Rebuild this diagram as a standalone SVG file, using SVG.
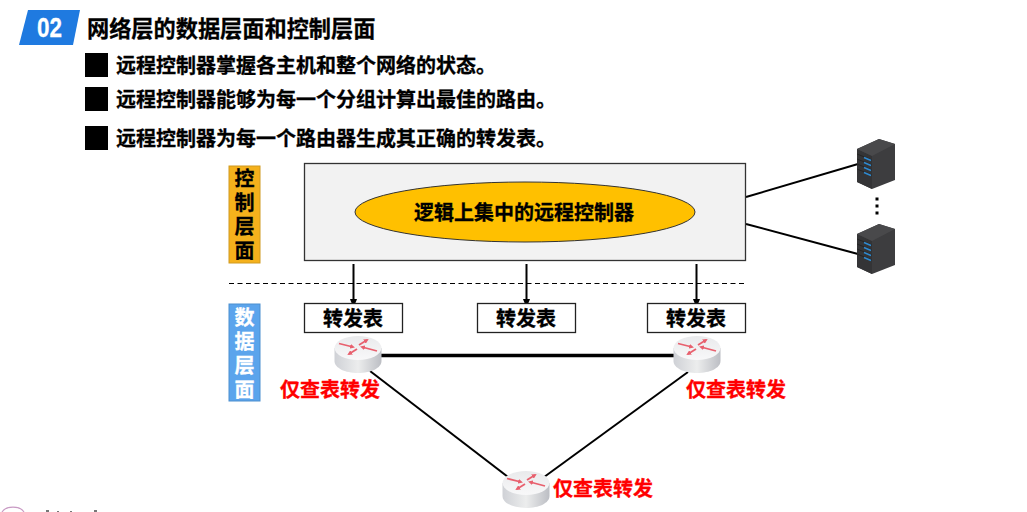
<svg xmlns="http://www.w3.org/2000/svg" width="1027" height="512" viewBox="0 0 1027 512">
<style>
text{font-family:"Noto Sans CJK SC","Liberation Sans",sans-serif;font-weight:700;fill:#000;stroke:#000;stroke-width:.3}
.t20{font-size:20px}
.title{font-size:22.2px}
.mid{text-anchor:middle}
.red{fill:#f00;stroke:#f00;font-size:20px}
.side{font-size:20px;writing-mode:vertical-rl;letter-spacing:4.300px}
.white{fill:#fff;stroke:#fff}
.box{fill:#fff;stroke:#222;stroke-width:1.3}
.bar{fill:#000}
.link{stroke:#000;fill:none}
.dot{fill:#000}
.frag{fill:#777}
</style>
<defs>
<marker id="arr" markerWidth="9" markerHeight="7" refX="8" refY="3.5" orient="auto" markerUnits="userSpaceOnUse"><path d="M0 0L9 3.5L0 7Z" fill="#000"/></marker>
<marker id="rarr" markerWidth="5" markerHeight="5" refX="3" refY="2.5" orient="auto" markerUnits="userSpaceOnUse"><path d="M0 0L5 2.5L0 5Z" fill="#e8606e"/></marker>
<linearGradient id="rside" x1="0" x2="1" y1="0" y2="0"><stop offset="0" stop-color="#cfd1d6"/><stop offset=".5" stop-color="#eceded"/><stop offset="1" stop-color="#bcbec4"/></linearGradient>
<linearGradient id="rtop" x1="0" x2="0" y1="0" y2="1"><stop offset="0" stop-color="#e9eaec"/><stop offset="1" stop-color="#f8f8f9"/></linearGradient>
<g id="router">
<path d="M-23.500 -6V7C-23.500 14 -13 19 0 19S23.500 14 23.500 7V-6Z" fill="url(#rside)"/>
<ellipse cx="0" cy="-6" rx="23.500" ry="12" fill="url(#rtop)"/>
<g stroke="#e8606e" stroke-width="1.800" fill="none">
<path marker-end="url(#rarr)" d="M-19 -10.500L-5 -7"/>
<path marker-end="url(#rarr)" d="M1 -9L9 -14"/>
<path marker-end="url(#rarr)" d="M-1 -5L-9 0"/>
<path marker-end="url(#rarr)" d="M19 -3L4 -7"/>
</g>
</g>
<g id="server">
<path d="M0 9L22 -1L38 4V40L15 49L0 42Z" fill="#3d3d3f"/>
<path d="M0 9L15 16V49L0 42Z" fill="#343436"/>
<path d="M0 9L22 -1L38 4L15 16Z" fill="#49494b"/>
<g stroke="#222" stroke-width=".9"><path d="M0 14L15 20"/><path d="M0 19L15 25"/><path d="M0 24L15 30"/><path d="M0 29L15 35"/></g>
<g stroke="#2f8ad0" stroke-width="1.500"><path d="M7 17.500L14 20.500"/><path d="M7 22.500L14 25.500"/><path d="M7 27.500L14 30.500"/><path d="M7 32.500L14 35.500"/></g>
</g>
</defs>

<g id="heading">
<path d="M28 10H80L73 45H19Z" fill="#1f7ae0"/>
<text x="37" y="37" class="white" style="font-family:'Liberation Sans',sans-serif;font-size:27px" textLength="25" lengthAdjust="spacingAndGlyphs">02</text>
<text x="87" y="37" class="title">网络层的数据层面和控制层面</text>
</g>

<g id="bullets">
<rect class="bar" x="85" y="53" width="23" height="24"/>
<text x="116" y="73" class="t20">远程控制器掌握各主机和整个网络的状态。</text>
<rect class="bar" x="85" y="87" width="23" height="24"/>
<text x="116" y="107" class="t20">远程控制器能够为每一个分组计算出最佳的路由。</text>
<rect class="bar" x="85" y="126" width="23" height="24"/>
<text x="116" y="146" class="t20">远程控制器为每一个路由器生成其正确的转发表。</text>
</g>

<g id="connectors">
<path class="link" stroke-width="2" d="M746 197L858 164"/>
<path class="link" stroke-width="2" d="M746 224L858 254"/>
<path class="link" stroke-width="1.200" stroke-dasharray="5 3.500" d="M229 283.500H746"/>
<path class="link" stroke-width="2" marker-end="url(#arr)" d="M353.500 264V307"/>
<path class="link" stroke-width="2" marker-end="url(#arr)" d="M526.500 264V307"/>
<path class="link" stroke-width="2" marker-end="url(#arr)" d="M696.500 264V307"/>
<path class="link" stroke-width="3.500" d="M381 355.500H674"/>
<path class="link" stroke-width="2" d="M370 371L512 480"/>
<path class="link" stroke-width="2" d="M688 372L540 480"/>
</g>

<g id="control-label">
<rect x="229" y="166" width="31" height="97" fill="#f5b11c" stroke="#d09a20" stroke-width="1"/>
<text class="side" x="244.500" y="168">控制层面</text>
</g>

<g id="data-label">
<rect x="229" y="304" width="31" height="97" fill="#5ba4ec" stroke="#4d8fcf" stroke-width="1"/>
<text class="side white" x="244.500" y="307">数据层面</text>
</g>

<g id="controller">
<rect x="304.500" y="163.500" width="441" height="97" fill="#f2f2f2" stroke="#333" stroke-width="1.300"/>
<ellipse cx="525" cy="212" rx="170" ry="30" fill="#ffc000" stroke="#333" stroke-width="1"/>
<text x="524" y="220" class="t20 mid">逻辑上集中的远程控制器</text>
</g>

<g id="table-left"><rect class="box" x="304.500" y="303.500" width="98" height="29"/><text x="353" y="326" class="t20 mid">转发表</text></g>
<g id="table-mid"><rect class="box" x="477.500" y="303.500" width="98" height="29"/><text x="526" y="326" class="t20 mid">转发表</text></g>
<g id="table-right"><rect class="box" x="647.500" y="303.500" width="98" height="29"/><text x="696" y="326" class="t20 mid">转发表</text></g>

<g id="router-left"><use href="#router" x="358" y="354"/><text x="280" y="397" class="red">仅查表转发</text></g>
<g id="router-right"><use href="#router" x="697" y="354"/><text x="686" y="397" class="red">仅查表转发</text></g>
<g id="router-bottom"><use href="#router" x="526" y="489"/><text x="553" y="496" class="red">仅查表转发</text></g>

<g id="server-top"><use href="#server" x="857" y="140"/></g>
<g id="server-bottom"><use href="#server" x="857" y="225"/></g>
<g id="dots"><rect class="dot" x="875.500" y="197.500" width="3" height="3"/><rect class="dot" x="875.500" y="204.500" width="3" height="3"/><rect class="dot" x="875.500" y="211.500" width="3" height="3"/></g>
<g id="logo">
<path d="M2 512A12 8 0 0 1 24 512" fill="none" stroke="#c99bc4" stroke-width="1.200"/>
<rect class="frag" x="46" y="510" width="3" height="2"/><rect class="frag" x="57" y="511" width="2" height="1"/><rect class="frag" x="70" y="511" width="2" height="1"/><rect class="frag" x="94" y="510" width="3" height="2"/>
</g>
</svg>
